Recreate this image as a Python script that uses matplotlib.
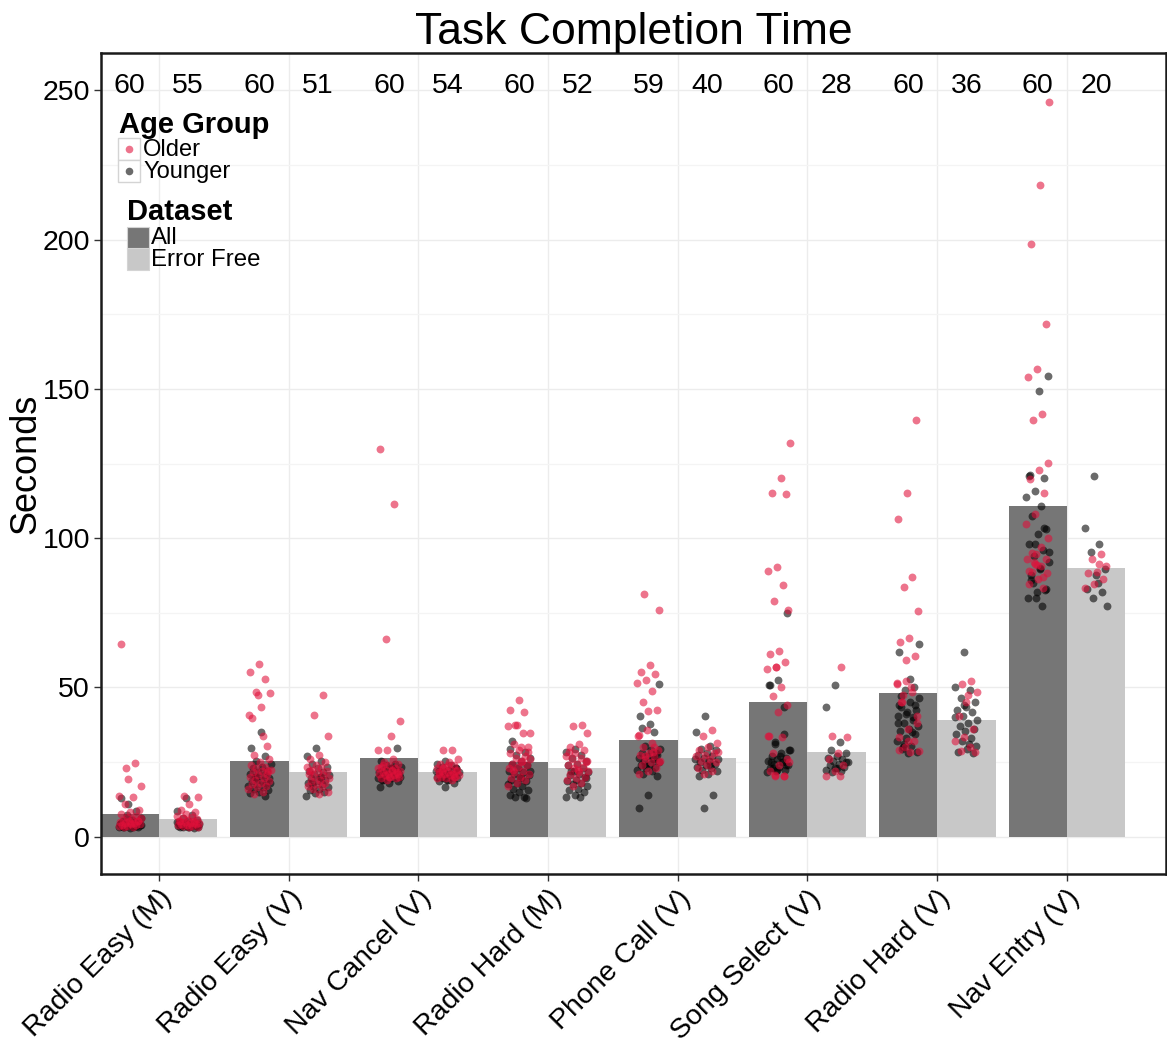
import numpy as np
import matplotlib
matplotlib.use("Agg")
import matplotlib.pyplot as plt
from matplotlib.patches import Rectangle
from matplotlib.lines import Line2D

plt.rcParams['font.family'] = ['Liberation Sans', 'DejaVu Sans']

# ---- data -------------------------------------------------------------
tasks = ["Radio Easy (M)", "Radio Easy (V)", "Nav Cancel (V)", "Radio Hard (M)",
         "Phone Call (V)", "Song Select (V)", "Radio Hard (V)", "Nav Entry (V)"]

# mean completion time (seconds)
mean_all = [7.7, 25.4, 26.3, 25.0, 32.5, 45.0, 48.2, 110.7]
mean_error_free = [6.0, 21.8, 21.7, 23.0, 26.3, 28.3, 39.1, 89.9]

# number of trials per bar
n_all = [60, 60, 60, 60, 59, 60, 60, 60]
n_error_free = [55, 51, 54, 52, 40, 28, 36, 20]

# error-free trials, older participants
ef_older = [
    [19.4, 13.5, 13.2, 10.8, 9.0, 8.2, 7.6, 7.0, 6.6, 6.2, 5.9, 5.6, 5.3, 5.1, 4.9,
     4.7, 4.5, 4.3, 4.1, 3.9, 3.8, 3.6, 3.5, 3.4, 3.3, 5.4, 4.6],
    [47.4, 40.7, 33.8, 27.5, 26.0, 25.0, 24.0, 23.5, 23.0, 22.5, 22.0, 21.5, 21.0,
     20.5, 20.0, 19.5, 19.0, 18.5, 18.0, 17.5, 17.0, 16.5, 16.0, 15.0, 14.2, 22.0],
    [29.2, 29.0, 26.0, 25.0, 24.5, 24.0, 23.5, 23.0, 22.5, 22.0, 22.0, 21.5, 21.5,
     21.0, 21.0, 20.5, 20.5, 20.0, 20.0, 19.5, 19.5, 19.0, 23.0, 22.5, 24.0, 21.0, 20.0],
    [37.4, 37.0, 34.6, 31.0, 30.0, 29.0, 28.0, 27.0, 26.5, 26.0, 25.0, 24.5, 24.0,
     23.5, 23.0, 22.0, 21.5, 21.0, 20.0, 19.5, 19.0, 18.0, 17.0, 25.5, 22.5, 28.5],
    [35.7, 33.8, 31.4, 30.0, 29.0, 28.0, 27.5, 27.0, 26.0, 25.5, 25.0, 24.0, 23.0,
     22.0, 21.0, 28.5],
    [56.7, 33.8, 33.5, 28.0, 26.0, 24.0, 22.0, 20.3, 20.2],
    [52.0, 51.1, 48.3, 47.5, 40.5, 36.0, 33.3, 32.0, 30.0, 28.8, 28.5, 45.0],
    [94.6, 93.0, 90.8, 88.6, 88.2, 86.4, 84.8, 83.4, 91.5],
]

# error-free trials, younger participants
ef_younger = [
    [12.8, 8.6, 7.2, 6.3, 5.7, 5.2, 4.9, 4.6, 4.4, 4.2, 4.0, 3.9, 3.8, 3.7, 3.6,
     3.5, 3.4, 3.3, 3.2, 3.1, 3.0, 4.7, 5.0, 4.3, 3.9, 3.6, 3.3, 4.1],
    [29.7, 27.0, 25.5, 24.5, 23.5, 23.0, 22.0, 21.5, 21.0, 20.5, 20.0, 19.5, 19.0,
     18.5, 18.0, 17.5, 17.0, 16.5, 16.0, 15.5, 15.0, 14.5, 13.5, 20.0, 18.0],
    [25.5, 24.5, 24.0, 23.5, 23.0, 22.5, 22.0, 22.0, 21.5, 21.5, 21.0, 21.0, 20.5,
     20.5, 20.0, 20.0, 19.5, 19.5, 19.0, 18.5, 18.0, 16.8, 22.0, 21.0, 20.0, 23.0, 19.0],
    [29.5, 28.5, 27.5, 26.5, 25.5, 24.5, 24.0, 23.0, 22.0, 21.5, 21.0, 20.5, 20.0,
     19.0, 18.5, 18.0, 17.5, 17.0, 16.0, 15.5, 15.0, 14.0, 13.3, 13.2, 22.0, 19.5],
    [40.5, 35.2, 30.5, 29.5, 29.0, 28.0, 27.5, 27.0, 26.5, 26.0, 25.5, 25.0, 24.5,
     24.0, 23.5, 23.0, 22.5, 22.0, 21.0, 20.4, 13.8, 9.7, 26.0, 24.0],
    [50.8, 43.5, 31.6, 29.0, 28.0, 27.0, 26.5, 26.0, 25.5, 25.0, 24.5, 24.0, 23.5,
     23.0, 22.5, 22.0, 21.5, 25.0, 23.0],
    [61.9, 50.3, 49.0, 46.3, 45.0, 43.3, 42.5, 41.6, 40.5, 39.0, 38.0, 37.2, 36.0,
     35.5, 34.5, 33.0, 32.0, 30.5, 29.5, 28.5, 27.9, 44.0, 40.0, 31.0],
    [120.9, 103.3, 98.1, 95.3, 89.5, 87.8, 82.8, 82.1, 79.8, 77.2, 85.0],
]

# trials with errors (only in the "All" dataset), older participants
err_older = [
    [64.7, 24.6, 22.9, 17.0],
    [58.0, 55.3, 52.8, 48.3, 48.0, 43.4, 39.6, 30.5],
    [129.9, 111.4, 66.2, 38.7, 33.7],
    [45.8, 42.5, 41.9, 37.4, 34.8, 30.0],
    [81.4, 75.9, 57.4, 55.2, 54.4, 52.4, 51.4, 48.7, 45.0, 42.4, 42.0, 34.0, 30.0,
     27.0, 25.0],
    [132.0, 120.2, 115.1, 114.8, 90.2, 89.1, 84.3, 78.9, 75.9, 62.2, 61.1, 58.6,
     56.9, 56.1, 50.0, 47.0, 44.1, 41.6, 33.8, 20.3, 20.5, 25.0],
    [139.7, 115.1, 106.3, 87.1, 83.5, 75.6, 66.7, 65.1, 60.4, 59.1, 51.4, 50.0,
     45.0, 38.0, 32.0, 29.0],
    [246.0, 218.4, 198.4, 171.8, 156.6, 154.1, 141.6, 139.5, 125.2, 122.9, 119.8,
     115.1, 108.0, 104.9, 97.0, 95.0, 93.0, 91.0, 89.0, 87.0, 92.0, 100.0],
]

# trials with errors, younger participants
err_younger = [
    [11.0],
    [35.0],
    [29.8],
    [32.0, 12.9],
    [51.3, 37.7, 36.3, 28.0],
    [75.0, 52.6, 50.8, 34.4, 31.1, 29.0, 27.0, 25.0, 24.0, 22.5],
    [64.4, 52.8, 47.0, 44.0, 41.0, 38.0, 35.0, 30.0],
    [154.4, 149.2, 121.0, 120.1, 115.7, 113.7, 110.7, 107.5, 103.2, 101.5, 98.1,
     96.0, 94.0, 92.0, 90.0, 86.0, 82.6, 80.0],
]

# ---- styling ----------------------------------------------------------
W, H = 1167, 1046
COL_ALL = "#767676"
COL_EF = "#c8c8c8"
COL_OLD = "#e0103a"
COL_YOUNG = "#000000"
PT_ALPHA = 0.58
PT_SIZE = 32
BAR_W = 0.45

fig = plt.figure(figsize=(W / 100, H / 100), dpi=100)
ax = fig.add_axes([101 / W, 1 - 874 / H, 1065 / W, 821 / H])

x = np.arange(1, len(tasks) + 1)
x_all = x - BAR_W / 2
x_ef = x + BAR_W / 2

ax.bar(x_all, mean_all, width=BAR_W, color=COL_ALL, zorder=2)
ax.bar(x_ef, mean_error_free, width=BAR_W, color=COL_EF, zorder=2)


def spread(n, phase):
    """Deterministic horizontal spread for overlapping points."""
    k = np.arange(n)
    return (((k * 0.6180339887 + phase) % 1.0) - 0.5) * 2 * 0.09


for i in range(len(tasks)):
    groups = [
        (x_all[i], ef_younger[i] + err_younger[i], ef_older[i] + err_older[i], 0.13),
        (x_ef[i], ef_younger[i], ef_older[i], 0.41),
    ]
    for xc, young, old, ph in groups:
        ax.scatter(xc + spread(len(young), ph), young, s=PT_SIZE, color=COL_YOUNG,
                   alpha=PT_ALPHA, linewidths=0, zorder=3)
        ax.scatter(xc + spread(len(old), ph + 0.29), old, s=PT_SIZE, color=COL_OLD,
                   alpha=PT_ALPHA, linewidths=0, zorder=3)

for i in range(len(tasks)):
    ax.text(x_all[i], 251.5, str(n_all[i]), ha="center", va="center",
            fontsize=20.5, zorder=4)
    ax.text(x_ef[i], 251.5, str(n_error_free[i]), ha="center", va="center",
            fontsize=20.5, zorder=4)

ax.set_xlim(0.553, 8.764)
ax.set_ylim(-12.5, 262.5)
ax.set_xticks(x)
ax.set_xticklabels(tasks, rotation=45, ha="right", va="top",
                   rotation_mode="anchor")
ax.set_yticks(np.arange(0, 251, 50))
ax.set_yticks(np.arange(25, 250, 50), minor=True)
ax.tick_params(axis="both", which="major", labelsize=20.5, length=5,
               width=1, color="#333333", pad=3)
ax.tick_params(axis="y", which="minor", length=0)
ax.grid(True, which="major", color="#ececec", lw=1.0, zorder=0)
ax.grid(True, which="minor", axis="y", color="#f4f4f4", lw=0.9, zorder=0)
ax.set_axisbelow(True)
for sp in ax.spines.values():
    sp.set_color("#1a1a1a")
    sp.set_linewidth(1.8)

ax.set_ylabel("Seconds", fontsize=26, labelpad=-0.5)
ax.set_title("Task Completion Time", fontsize=32, pad=6)


# ---- legends (placed in the upper-left of the panel) -------------------
def fx(px):
    return px / W


def fy(py):
    return 1 - py / H


fig.text(fx(119), fy(125), "Age Group", fontsize=21, fontweight="bold",
         ha="left", va="center")
for j, (lab, col) in enumerate([("Older", COL_OLD), ("Younger", COL_YOUNG)]):
    top = 138 + j * 22
    fig.add_artist(Rectangle((fx(118), fy(top + 22)), 22 / W, 22 / H,
                             transform=fig.transFigure, facecolor="white",
                             edgecolor="#d4d4d4", lw=1.0))
    fig.add_artist(Line2D([fx(129)], [fy(top + 11)], marker="o", markersize=5.5,
                          color=col, alpha=PT_ALPHA, markeredgewidth=0,
                          transform=fig.transFigure))
    fig.text(fx(143), fy(top + 12), lab, fontsize=17, ha="left", va="center")

fig.text(fx(127), fy(212), "Dataset", fontsize=21, fontweight="bold",
         ha="left", va="center")
for j, (lab, col) in enumerate([("All", COL_ALL), ("Error Free", COL_EF)]):
    top = 227 + j * 21.5
    fig.add_artist(Rectangle((fx(127), fy(top + 21.5)), 21.5 / W, 21.5 / H,
                             transform=fig.transFigure, facecolor=col,
                             edgecolor="#d4d4d4", lw=0.8))
    fig.text(fx(151), fy(top + 11.5), lab, fontsize=17.3, ha="left", va="center")

fig.savefig("out.png", dpi=100)
